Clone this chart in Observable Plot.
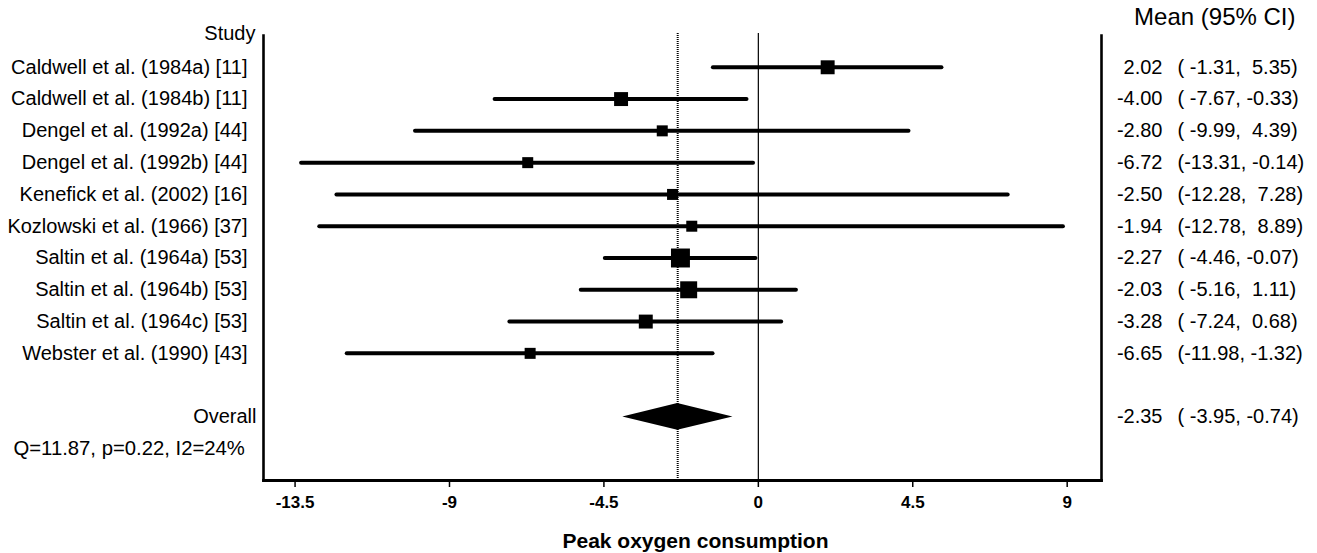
<!DOCTYPE html>
<html>
<head>
<meta charset="utf-8">
<script src="https://cdn.jsdelivr.net/npm/d3@7"></script>
<script src="https://cdn.jsdelivr.net/npm/@observablehq/plot@0.6"></script>
<style>
  html, body { margin: 0; padding: 0; background: #fff; }
  svg text { white-space: pre; }
</style>
</head>
<body>
<div id="chart"></div>
<script>
const studies = [
  "Caldwell et al. (1984a) [11]",
  "Caldwell et al. (1984b) [11]",
  "Dengel et al. (1992a) [44]",
  "Dengel et al. (1992b) [44]",
  "Kenefick et al. (2002) [16]",
  "Kozlowski et al. (1966) [37]",
  "Saltin et al. (1964a) [53]",
  "Saltin et al. (1964b) [53]",
  "Saltin et al. (1964c) [53]",
  "Webster et al. (1990) [43]"
];
const means  = [2.02, -4.00, -2.80, -6.72, -2.50, -1.94, -2.27, -2.03, -3.28, -6.65];
const lower  = [-1.31, -7.67, -9.99, -13.31, -12.28, -12.78, -4.46, -5.16, -7.24, -11.98];
const upper  = [5.35, -0.33, 4.39, -0.14, 7.28, 8.89, -0.07, 1.11, 0.68, -1.32];
const weights = [10.6, 10.6, 6.6, 6.6, 6.6, 6.6, 19.6, 15.7, 10.6, 6.6];
const overallMean = -2.35;
const overallLower = -3.95;
const overallUpper = -0.74;
const heterogeneity = "Q=11.87, p=0.22, I2=24%";
const xTicks = [-13.5, -9, -4.5, 0, 4.5, 9];
const xLabel = "Peak oxygen consumption";
const studyHeader = "Study";
const overallLabel = "Overall";
const valueHeader = "Mean (95% CI)";

const pad = (s, n) => s.padStart(n, " ");
const ciText = (lo, hi) => "(" + pad(lo.toFixed(2), 6) + ", " + pad(hi.toFixed(2), 5) + ")";

const rows = studies.map((s, i) => ({
  study: s, mean: means[i], lo: lower[i], hi: upper[i], w: weights[i], row: i + 1
}));
const overallRow = 12;
const qRow = 13;
const axisRow = 14;
const dh = 0.42;
const diamond = [
  {y: overallRow - dh, x1: overallMean, x2: overallMean},
  {y: overallRow, x1: overallLower, x2: overallUpper},
  {y: overallRow + dh, x1: overallMean, x2: overallMean}
];

const chart = Plot.plot({
  width: 1317,
  height: 553,
  marginLeft: 263,
  marginRight: 216,
  marginTop: 35,
  marginBottom: 73,
  x: {domain: [-14.42, 10.0], axis: null},
  y: {domain: [0, axisRow], reverse: true, axis: null},
  r: {type: "sqrt", domain: [0, 19.6], range: [0, 10.7]},
  style: {fontFamily: "'Liberation Sans', Arial, sans-serif", fontSize: "20px", background: "white", color: "black"},
  marks: [
    Plot.ruleX([0], {y1: -0.06, y2: axisRow, stroke: "black", strokeWidth: 1.2}),
    Plot.areaX(diamond, {y: "y", x1: "x1", x2: "x2", fill: "black"}),
    Plot.ruleX([overallMean], {y1: -0.06, y2: axisRow, stroke: "black", strokeWidth: 2, strokeDasharray: "1,1"}),
    Plot.ruleY(rows, {y: "row", x1: "lo", x2: "hi", stroke: "black", strokeWidth: 4, strokeLinecap: "round"}),
    Plot.dot(rows, {x: "mean", y: "row", r: "w", symbol: "square", fill: "black", stroke: null}),
    Plot.frame({anchor: "left", strokeWidth: 2.6}),
    Plot.frame({anchor: "right", strokeWidth: 2.6}),
    Plot.frame({anchor: "bottom", strokeWidth: 2.8}),
    Plot.ruleX(xTicks, {x: d => d, y1: axisRow, y2: axisRow + 0.22, stroke: "black", strokeWidth: 1.5}),
    Plot.text(xTicks, {x: d => d, y: axisRow, dy: 22, text: d => String(d), fontWeight: "bold", fontSize: 17, lineAnchor: "middle"}),
    Plot.text([xLabel], {frameAnchor: "bottom", dx: 13, dy: 61, lineAnchor: "middle", fontWeight: "bold", fontSize: 21}),
    Plot.text([studyHeader], {y: 0, frameAnchor: "left", dx: -8, dy: -2, textAnchor: "end", fontSize: 20}),
    Plot.text(rows, {y: "row", text: "study", frameAnchor: "left", dx: -16, textAnchor: "end", fontSize: 20}),
    Plot.text([overallLabel], {y: overallRow, frameAnchor: "left", dx: -7, textAnchor: "end", fontSize: 20}),
    Plot.text([heterogeneity], {y: qRow, frameAnchor: "left", dx: -250, textAnchor: "start", fontSize: 20.3}),
    Plot.text([valueHeader], {y: -0.57, frameAnchor: "right", dx: 194, textAnchor: "end", fontSize: 24}),
    Plot.text(rows, {y: "row", text: d => d.mean.toFixed(2), frameAnchor: "right", dx: 61, textAnchor: "end", fontSize: 20}),
    Plot.text(rows, {y: "row", text: d => ciText(d.lo, d.hi), frameAnchor: "right", dx: 76, textAnchor: "start", fontSize: 20}),
    Plot.text([overallMean], {y: overallRow, text: d => d.toFixed(2), frameAnchor: "right", dx: 61, textAnchor: "end", fontSize: 20}),
    Plot.text([ciText(overallLower, overallUpper)], {y: overallRow, frameAnchor: "right", dx: 76, textAnchor: "start", fontSize: 20})
  ]
});
document.getElementById("chart").appendChild(chart);
</script>
</body>
</html>
